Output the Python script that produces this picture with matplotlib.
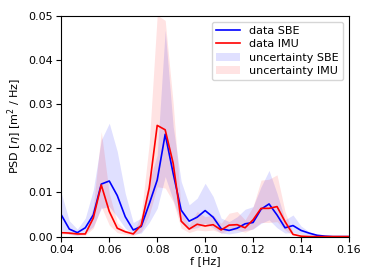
import numpy as np
import matplotlib
matplotlib.use("Agg")
import matplotlib.pyplot as plt

# frequency grid: 0.04 .. 0.16 Hz, step 1/300 Hz
freq = np.arange(12, 49) / 300.0

psd_sbe = [0.0049, 0.0017, 0.0009, 0.0020, 0.0049, 0.0119, 0.0126, 0.0093, 0.0045, 0.0015,
           0.0023, 0.0074, 0.0128, 0.0232, 0.0143, 0.0060, 0.0035, 0.0044, 0.0059, 0.0044,
           0.0018, 0.0014, 0.0019, 0.0029, 0.0032, 0.0062, 0.0074, 0.0049, 0.0020, 0.0025,
           0.0014, 0.0008, 0.0003, 0.0001, 0.0, 0.0, 0.0]
sbe_low = [0.0015, 0.0005, 0.0003, 0.0008, 0.0023, 0.0064, 0.0068, 0.0045, 0.0019, 0.0005,
           0.0008, 0.0032, 0.0064, 0.0136, 0.0083, 0.0032, 0.0017, 0.0020, 0.0030, 0.0020,
           0.0008, 0.0006, 0.0009, 0.0014, 0.0017, 0.0030, 0.0038, 0.0020, 0.0008, 0.0009,
           0.0005, 0.0002, 0.0001, 0.0, 0.0, 0.0, 0.0]
sbe_high = [0.0098, 0.0036, 0.0017, 0.0042, 0.0106, 0.0219, 0.0257, 0.0193, 0.0098, 0.0032,
            0.0042, 0.0125, 0.0185, 0.0468, 0.0249, 0.0125, 0.0072, 0.0087, 0.0121, 0.0091,
            0.0042, 0.0034, 0.0045, 0.0062, 0.0068, 0.0113, 0.0150, 0.0098, 0.0038, 0.0049,
            0.0024, 0.0011, 0.0005, 0.0002, 0.0, 0.0, 0.0]

psd_imu = [0.0009, 0.0008, 0.0006, 0.0006, 0.0042, 0.0117, 0.0057, 0.0019, 0.0011, 0.0006,
           0.0026, 0.0110, 0.0252, 0.0242, 0.0166, 0.0035, 0.0017, 0.0028, 0.0024, 0.0027,
           0.0015, 0.0026, 0.0027, 0.0020, 0.0038, 0.0064, 0.0064, 0.0068, 0.0034, 0.0005,
           0.0001, 0.0, 0.0, 0.0, 0.0, 0.0, 0.0]
imu_low = [0.0006, 0.0005, 0.0003, 0.0003, 0.0019, 0.0068, 0.0026, 0.0009, 0.0005, 0.0002,
           0.0011, 0.0049, 0.0113, 0.0110, 0.0079, 0.0019, 0.0009, 0.0015, 0.0013, 0.0015,
           0.0008, 0.0014, 0.0015, 0.0010, 0.0018, 0.0032, 0.0032, 0.0034, 0.0015, 0.0003,
           0.0, 0.0, 0.0, 0.0, 0.0, 0.0, 0.0]
imu_high = [0.0012, 0.0010, 0.0008, 0.0008, 0.0068, 0.0238, 0.0098, 0.0032, 0.0015, 0.0009,
            0.0049, 0.0211, 0.0502, 0.0490, 0.0302, 0.0060, 0.0026, 0.0057, 0.0045, 0.0049,
            0.0030, 0.0053, 0.0057, 0.0038, 0.0068, 0.0128, 0.0130, 0.0140, 0.0057, 0.0008,
            0.0001, 0.0, 0.0, 0.0, 0.0, 0.0, 0.0]

fig = plt.figure(figsize=(3.74, 2.8), dpi=100)
ax = fig.add_axes([0.164, 0.155, 0.769, 0.788])

ax.plot(freq, psd_sbe, color="blue", lw=1.2, label="data SBE")
ax.plot(freq, psd_imu, color="red", lw=1.2, label="data IMU")
ax.fill_between(freq, sbe_low, sbe_high, color="blue", alpha=0.12, lw=0, label="uncertainty SBE")
ax.fill_between(freq, imu_low, imu_high, color="red", alpha=0.11, lw=0, label="uncertainty IMU")

ax.set_xlim(0.04, 0.16)
ax.set_ylim(0, 0.05)
ax.set_xticks([0.04, 0.06, 0.08, 0.10, 0.12, 0.14, 0.16])
ax.set_yticks([0.0, 0.01, 0.02, 0.03, 0.04, 0.05])
ax.tick_params(labelsize=8, length=3.5, pad=2.5)
ax.set_xlabel("f [Hz]", fontsize=8, labelpad=1)
ax.set_ylabel(r"PSD [$\eta$] [m$^2$ / Hz]", fontsize=8, labelpad=3)
ax.legend(loc="upper right", fontsize=8, handlelength=2.2, borderpad=0.4, labelspacing=0.3)

fig.savefig("out.png", dpi=100)
